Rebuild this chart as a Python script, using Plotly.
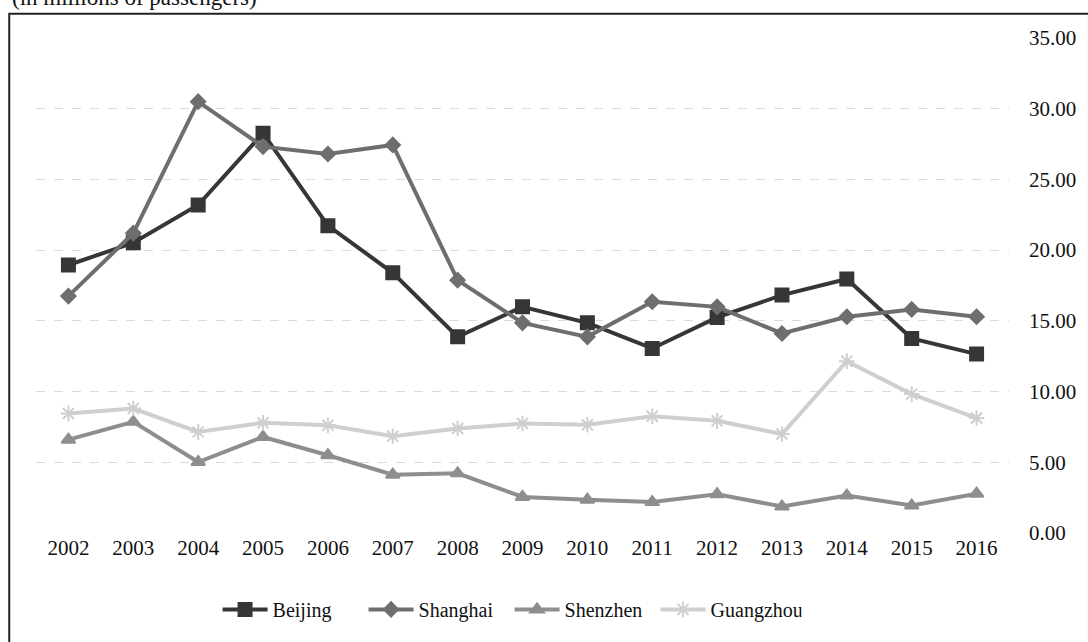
import plotly.graph_objects as go

# Annual values per city, 2002-2016
years = ["2002", "2003", "2004", "2005", "2006", "2007", "2008", "2009",
         "2010", "2011", "2012", "2013", "2014", "2015", "2016"]
beijing = [18.95, 20.52, 23.19, 28.27, 21.73, 18.40, 13.87, 15.99,
           14.86, 13.05, 15.24, 16.82, 17.96, 13.76, 12.65]
shanghai = [16.75, 21.20, 30.50, 27.32, 26.80, 27.44, 17.88, 14.86,
            13.87, 16.35, 15.99, 14.11, 15.29, 15.81, 15.29]
shenzhen = [6.60, 7.86, 5.02, 6.79, 5.50, 4.12, 4.22, 2.55,
            2.35, 2.19, 2.74, 1.87, 2.65, 1.94, 2.78]
guangzhou = [8.45, 8.80, 7.15, 7.79, 7.62, 6.84, 7.39, 7.74,
             7.65, 8.26, 7.93, 7.00, 12.15, 9.82, 8.13]

serif = "Liberation Serif, Times New Roman, serif"

fig = go.Figure()

series = [
    ("Beijing", beijing, "#363636", "square", 13),
    ("Shanghai", shanghai, "#6e6e6e", "diamond", 11),
    ("Shenzhen", shenzhen, "#8e8e8e", "triangle-up", 12),
    ("Guangzhou", guangzhou, "#cfcfcf", "asterisk-open", 13),
]
for name, vals, color, sym, size in series:
    fig.add_trace(go.Scatter(
        x=years, y=vals, name=name, mode="lines+markers",
        line=dict(color=color, width=4),
        marker=dict(symbol=sym, size=size, color=color,
                    line=dict(color=color, width=2)),
    ))

W, H = 1088, 642
left, right, top, bottom = 36.4, 1014.6, 38.3, 532.7

fig.update_layout(
    width=W, height=H,
    margin=dict(l=left, r=W - right, t=top, b=H - bottom, pad=0),
    paper_bgcolor="white", plot_bgcolor="white",
    font=dict(family=serif, size=21, color="#111111"),
    showlegend=True,
    legend=dict(orientation="h", x=0.4867, xanchor="center",
                y=-(609 - bottom) / (bottom - top), yanchor="middle",
                font=dict(family=serif, size=20, color="#111111"),
                itemwidth=45, entrywidth=86, entrywidthmode="pixels",
                tracegroupgap=0),
    xaxis=dict(type="category", range=[-0.5, 14.5], showgrid=False,
               showline=False, zeroline=False, ticks="",
               tickfont=dict(family=serif, size=21, color="#111111")),
    yaxis=dict(range=[0, 35], dtick=5, tickformat=".2f", side="right",
               showgrid=True, gridcolor="#dadada", griddash="dash",
               gridwidth=1, zeroline=False, showline=False, ticks="",
               ticklabelstandoff=19,
               tickfont=dict(family=serif, size=21, color="#111111")),
)

# Outer frame around the chart
fig.add_shape(type="rect", xref="paper", yref="paper",
              x0=(9.5 - left) / (right - left), x1=(1095 - left) / (right - left),
              y0=-(650 - bottom) / (bottom - top), y1=(bottom - 14) / (bottom - top),
              line=dict(color="#222222", width=2), fillcolor="rgba(0,0,0,0)",
              layer="below")

# Unit caption above the frame
fig.add_annotation(text="(in millions of passengers)", xref="paper", yref="paper",
                   x=(10 - left) / (right - left), xanchor="left",
                   y=(bottom - 12) / (bottom - top), yanchor="bottom",
                   showarrow=False, font=dict(family=serif, size=23, color="#111111"))

fig.write_html("out.html")
